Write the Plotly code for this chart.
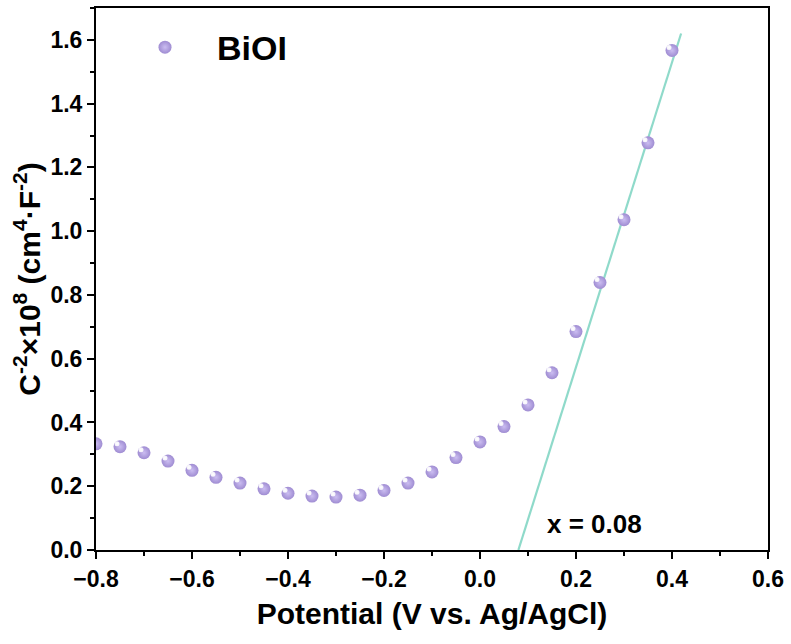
import plotly.graph_objects as go

# Mott-Schottky data for BiOI
potential = [-0.80, -0.75, -0.70, -0.65, -0.60, -0.55, -0.50, -0.45, -0.40,
             -0.35, -0.30, -0.25, -0.20, -0.15, -0.10, -0.05, 0.00, 0.05,
             0.10, 0.15, 0.20, 0.25, 0.30, 0.35, 0.40]
inv_c2 = [0.333, 0.324, 0.305, 0.279, 0.250, 0.228, 0.210, 0.192, 0.178,
          0.169, 0.166, 0.172, 0.187, 0.210, 0.245, 0.290, 0.339, 0.387,
          0.455, 0.556, 0.685, 0.839, 1.036, 1.277, 1.567]

# linear fit of the steep region, extrapolated to the x-axis intercept
fit_x = [0.08, 0.419]
fit_y = [0.0, 1.62]
intercept_label = "x = 0.08"

X_RANGE = [-0.8, 0.6]
Y_RANGE = [0.0, 1.7]

FONT = "Liberation Sans, Arial, sans-serif"
W, H = 791, 644
M_L, M_R, M_T, M_B = 96, 23, 8, 94

# shift (in pixels) of the glossy highlight on each sphere marker
HL_DX, HL_DY = -3, -3
px_x = (X_RANGE[1] - X_RANGE[0]) / (W - M_L - M_R)
px_y = (Y_RANGE[1] - Y_RANGE[0]) / (H - M_T - M_B)
x2_range = [X_RANGE[0] - HL_DX * px_x, X_RANGE[1] - HL_DX * px_x]
y2_range = [Y_RANGE[0] + HL_DY * px_y, Y_RANGE[1] + HL_DY * px_y]

fig = go.Figure()

fig.add_trace(go.Scatter(
    x=fit_x, y=fit_y, mode="lines",
    line=dict(color="#8fdaca", width=2.2),
    showlegend=False, hoverinfo="skip",
))

fig.add_trace(go.Scatter(
    x=potential, y=inv_c2, mode="markers", name="BiOI",
    marker=dict(size=13, color="#9f8cd2",
                gradient=dict(type="radial", color="#cbbdf1"),
                line=dict(width=0)),
))

# specular highlight, drawn on an overlaid axis pair offset by a few pixels
fig.add_trace(go.Scatter(
    x=potential, y=inv_c2, mode="markers", xaxis="x2", yaxis="y2",
    marker=dict(size=5, color="rgba(255,255,255,0.85)",
                gradient=dict(type="radial", color="rgba(255,255,255,1)"),
                line=dict(width=0)),
    showlegend=False, hoverinfo="skip",
))

fig.add_annotation(
    x=0.2375, y=0.0815, text=f"<b>{intercept_label}</b>", showarrow=False,
    font=dict(family=FONT, size=26, color="black"),
)

axis_common = dict(
    showline=True, linecolor="black", linewidth=2, mirror=True,
    ticks="outside", ticklen=7, tickwidth=1.5, tickcolor="black",
    showgrid=False, zeroline=False,
    tickfont=dict(family=FONT, size=23, color="black", weight="bold"),
)

fig.update_layout(
    xaxis=dict(
        range=X_RANGE, dtick=0.2, tickformat=".1f",
        minor=dict(dtick=0.1, ticks="outside", ticklen=4, tickwidth=1.5, tickcolor="black"),
        title=dict(text="<b>Potential (V vs. Ag/AgCl)</b>",
                   font=dict(family=FONT, size=30, color="black"), standoff=12),
        **axis_common,
    ),
    yaxis=dict(
        range=Y_RANGE, dtick=0.2, tickformat=".1f",
        minor=dict(dtick=0.1, ticks="outside", ticklen=4, tickwidth=1.5, tickcolor="black"),
        title=dict(text="<b>C<sup>-2</sup>×10<sup>8</sup> (cm<sup>4</sup>·F<sup>-2</sup>)</b>",
                   font=dict(family=FONT, size=30, color="black"), standoff=1),
        **axis_common,
    ),
    xaxis2=dict(range=x2_range, overlaying="x", visible=False),
    yaxis2=dict(range=y2_range, overlaying="y", visible=False),
    width=W, height=H,
    margin=dict(l=M_L, r=M_R, t=M_T, b=M_B, autoexpand=False),
    paper_bgcolor="white", plot_bgcolor="white",
    legend=dict(x=0.0253, y=0.927, xanchor="left", yanchor="middle",
                bgcolor="rgba(0,0,0,0)", itemwidth=94,
                font=dict(family=FONT, size=34, color="black", weight="bold")),
)

fig.write_html("out.html")
